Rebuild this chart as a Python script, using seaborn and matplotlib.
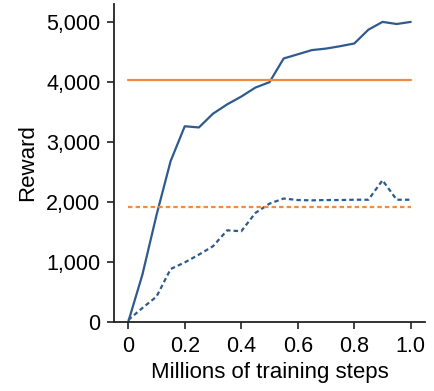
import numpy as np
import pandas as pd
import matplotlib
matplotlib.use("Agg")
import matplotlib.pyplot as plt
import seaborn as sns
from matplotlib.ticker import FuncFormatter

# datos
steps = [0.0, 0.05, 0.1, 0.15, 0.2, 0.25, 0.3, 0.35, 0.4, 0.45, 0.5,
         0.55, 0.6, 0.65, 0.7, 0.75, 0.8, 0.85, 0.9, 0.95, 1.0]
reward_solid = [0, 785, 1780, 2680, 3260, 3240, 3470, 3625, 3755, 3905, 3995,
                4390, 4460, 4530, 4555, 4595, 4640, 4870, 5000, 4965, 5000]
reward_dashed = [30, 230, 420, 880, 990, 1120, 1260, 1525, 1510, 1815, 1970,
                 2055, 2030, 2025, 2030, 2030, 2035, 2035, 2360, 2035, 2035]
baseline_solid = 4025
baseline_dashed = 1915

blue = '#2f5b8c'
orange = '#f28a3f'

sns.set_style("ticks")
plt.rcParams['font.family'] = ['Liberation Sans', 'DejaVu Sans']

df = pd.DataFrame({
    'steps': steps * 2,
    'reward': reward_solid + reward_dashed,
    'run': ['solid'] * len(steps) + ['dashed'] * len(steps),
})

fig = plt.figure(figsize=(4.34, 3.91), dpi=100)
ax = fig.add_axes([0.263, 0.177, 0.716, 0.813])

sns.lineplot(data=df, x='steps', y='reward', style='run',
             dashes={'solid': '', 'dashed': (2, 1.4)},
             color=blue, lw=1.6, legend=False, ax=ax)

ax.plot([steps[0], steps[-1]], [baseline_solid] * 2, color=orange, lw=1.6)
ax.plot([steps[0], steps[-1]], [baseline_dashed] * 2, color=orange, lw=1.6,
        dashes=(2, 1.4))

ax.set_xlim(-0.05, 1.05)
ax.set_ylim(0, 5300)
ax.set_xticks([0, 0.2, 0.4, 0.6, 0.8, 1.0])
ax.set_xticklabels(['0', '0.2', '0.4', '0.6', '0.8', '1.0'])
ax.set_yticks([0, 1000, 2000, 3000, 4000, 5000])
ax.yaxis.set_major_formatter(FuncFormatter(lambda v, p: f'{int(v):,}'))

ax.tick_params(labelsize=15.5, length=5, width=1.2, color='#222222',
               labelcolor='black', pad=5)
ax.set_xlabel('Millions of training steps', fontsize=16, color='black', labelpad=4)
ax.set_ylabel('Reward', fontsize=16, color='black', labelpad=6)
for s in ['left', 'bottom']:
    ax.spines[s].set_linewidth(1.3)
    ax.spines[s].set_color('#222222')
sns.despine(ax=ax)

fig.savefig('out.png', dpi=100)
